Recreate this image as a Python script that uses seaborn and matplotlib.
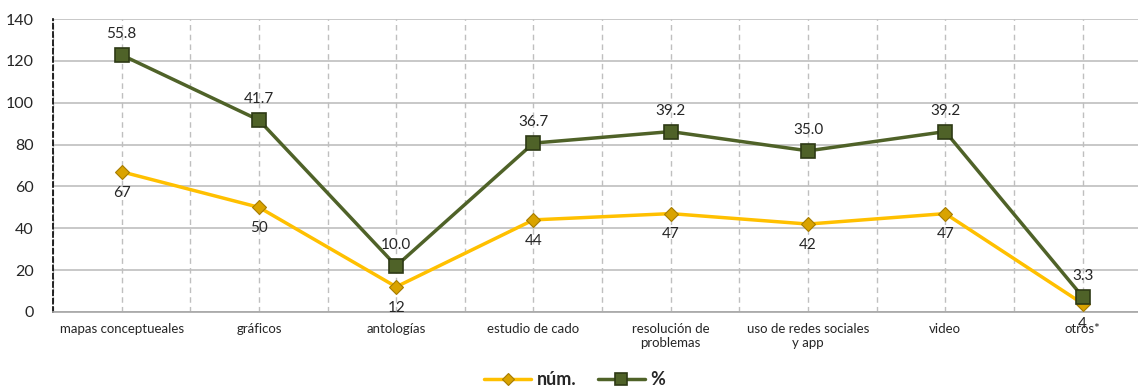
import matplotlib
matplotlib.use("Agg")
import matplotlib.pyplot as plt
import seaborn as sns
import pandas as pd

categorias = ["mapas conceptueales", "gráficos", "antologías", "estudio de cado",
              "resolución de\nproblemas", "uso de redes sociales\ny app", "video", "otros*"]
num = [67, 50, 12, 44, 47, 42, 47, 4]
pct = [55.8, 41.7, 10.0, 36.7, 39.2, 35.0, 39.2, 3.3]

# stacked line: the % series sits on top of núm.
apilado = [n + p for n, p in zip(num, pct)]

sns.set_theme(style="white")
plt.rcParams["font.family"] = ["Lato", "DejaVu Sans"]

fig = plt.figure(figsize=(11.38, 3.88), dpi=100)
ax = fig.add_axes([0.0466, 0.196, 0.965, 0.755])

x = list(range(len(categorias)))
df = pd.DataFrame({"x": x, "num": num, "apilado": apilado})

amarillo = "#FFC000"
verde = "#4F6228"

sns.lineplot(data=df, x="x", y="num", ax=ax, color=amarillo, linewidth=2.5,
             marker="D", markersize=7.5, markerfacecolor="#D9A300",
             markeredgecolor="#A67C00", markeredgewidth=0.8, label="núm.", zorder=3)
sns.lineplot(data=df, x="x", y="apilado", ax=ax, color=verde, linewidth=2.5,
             marker="s", markersize=10.5, markerfacecolor="#4F6228",
             markeredgecolor="#2E3A15", markeredgewidth=1.2, label="%", zorder=4)

for xi, n, s, p in zip(x, num, apilado, pct):
    ax.annotate(f"{n}", (xi, n), xytext=(0, -10), textcoords="offset points",
                ha="center", va="top", fontsize=11, color="#262626")
    ax.annotate(f"{p:.1f}", (xi, s), xytext=(0, 10), textcoords="offset points",
                ha="center", va="bottom", fontsize=11, color="#262626")

ax.set_xlim(-0.5, len(categorias) - 0.5)
ax.set_ylim(0, 140)
ax.set_yticks(range(0, 141, 20))
ax.set_xticks(x)
ax.set_xticklabels(categorias, fontsize=9.5, color="#262626")
ax.tick_params(axis="y", labelsize=11.5, colors="#262626", length=0, pad=14)
ax.tick_params(axis="x", length=0, pad=8)
ax.set_xlabel("")
ax.set_ylabel("")

# grid: solid horizontals, dashed verticals at centres and boundaries
ax.grid(axis="y", color="#BFBFBF", linewidth=1.2, linestyle="-")
for v in [i * 0.5 - 0.5 for i in range(2 * len(categorias) + 1)]:
    ax.axvline(v, color="#BFBFBF", linewidth=1.0, linestyle=(0, (4, 3)), zorder=1)

for s in ["top", "right"]:
    ax.spines[s].set_visible(False)
ax.spines["bottom"].set_color("#A6A6A6")
ax.spines["bottom"].set_linewidth(1.2)
ax.spines["left"].set_color("black")
ax.spines["left"].set_linestyle((0, (3, 2)))
ax.spines["left"].set_linewidth(1.2)

# legend centred below the plot, in figure coordinates
leg = ax.legend(loc="center", bbox_to_anchor=(0.505, 0.021), bbox_transform=fig.transFigure,
                ncol=2, frameon=False, handlelength=2.6, columnspacing=1.2,
                handletextpad=0.3, markerscale=0.85, prop={"weight": "bold", "size": 13})

fig.savefig("out.png", dpi=100)
